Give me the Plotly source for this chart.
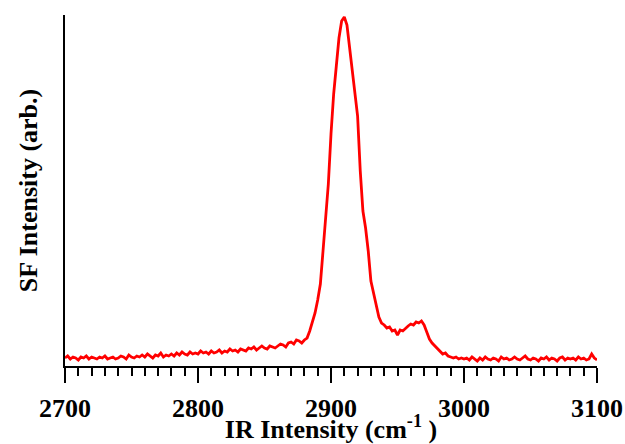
import plotly.graph_objects as go

# wavenumber grid (cm^-1), every 2 cm^-1 from 2700 to 3100
wavenumber = list(range(2700, 3101, 2))

# SF intensity (arb.)
sf_intensity = [
    8, 10, 7, 9, 8, 6, 9, 8, 10, 7,            # 2700-2718
    9, 8, 7, 9, 8, 10, 7, 8, 9, 7,             # 2720-2738
    8, 10, 9, 7, 11, 9, 8, 10, 9, 11,          # 2740-2758
    9, 12, 10, 8, 11, 10, 13, 9, 11, 10,       # 2760-2778
    12, 10, 13, 11, 14, 12, 11, 14, 12, 13,    # 2780-2798
    12, 15, 13, 14, 12, 15, 13, 14, 16, 13,    # 2800-2818
    15, 14, 17, 15, 16, 14, 17, 16, 15, 18,    # 2820-2838
    17, 19, 16, 18, 20, 18, 17, 20, 19, 18,    # 2840-2858
    20, 22, 21, 19, 23, 24, 22, 26, 25, 23,    # 2860-2878
    26, 28, 35, 44, 53, 66, 82, 115, 150, 182, # 2880-2898
    232, 272, 300, 328, 345, 349, 341, 318, 290, 268,  # 2900-2918
    250, 195, 155, 138, 115, 85, 72, 61, 49, 43,       # 2920-2938
    41, 38, 39, 35, 36, 31, 36, 35, 38, 40,    # 2940-2958
    42, 41, 44, 43, 45, 41, 34, 27, 23, 20,    # 2960-2978
    17, 15, 12, 13, 10, 9, 8, 9, 7, 8,         # 2980-2998
    7, 8, 6, 9, 7, 5, 8, 6, 9, 7,              # 3000-3018
    6, 8, 7, 5, 9, 7, 8, 6, 7, 9,              # 3020-3038
    7, 6, 8, 10, 7, 6, 8, 7, 5, 8,             # 3040-3058
    7, 9, 6, 8, 7, 5, 8, 9, 6, 8,              # 3060-3078
    7, 8, 6, 9, 7, 8, 6, 7, 12, 8,             # 3080-3098
    6,                                          # 3100
]

x_major_step = 100
x_minor_step = 10

FONT = "Liberation Serif"

fig = go.Figure(
    go.Scatter(
        x=wavenumber,
        y=sf_intensity,
        mode="lines",
        line=dict(color="#ff0000", width=2.8),
        hoverinfo="skip",
    )
)

fig.update_layout(
    width=625,
    height=444,
    margin=dict(l=65, r=28, t=15, b=78),
    paper_bgcolor="white",
    plot_bgcolor="white",
    showlegend=False,
    font=dict(family=FONT, color="black"),
)

fig.update_xaxes(
    range=[2700, 3100],
    automargin=False,
    showgrid=False,
    zeroline=False,
    showline=True,
    linecolor="black",
    linewidth=2,
    tickmode="linear",
    tick0=2700,
    dtick=x_major_step,
    ticks="outside",
    ticklen=15,
    tickwidth=2,
    tickcolor="black",
    tickfont=dict(family=FONT, size=26, color="black", weight="bold"),
    ticklabelstandoff=3,
    minor=dict(dtick=x_minor_step, tick0=2700, ticks="outside", ticklen=8,
               tickwidth=2, tickcolor="black", showgrid=False),
    title=dict(
        text="IR Intensity (cm<sup>-1</sup> )",
        font=dict(family=FONT, size=26, color="black", weight="bold"),
        standoff=8,
    ),
)

fig.update_yaxes(
    range=[0, 351],
    automargin=False,
    showgrid=False,
    zeroline=False,
    showline=True,
    linecolor="black",
    linewidth=2,
    ticks="",
    showticklabels=False,
    title=dict(
        text="SF Intensity (arb.)",
        font=dict(family=FONT, size=26, color="black", weight="bold"),
        standoff=18,
    ),
)

fig.write_html(
    "out.html",
    config={"displayModeBar": False, "staticPlot": True},
    post_script="document.body.style.margin='0';document.body.style.overflow='hidden';",
)
